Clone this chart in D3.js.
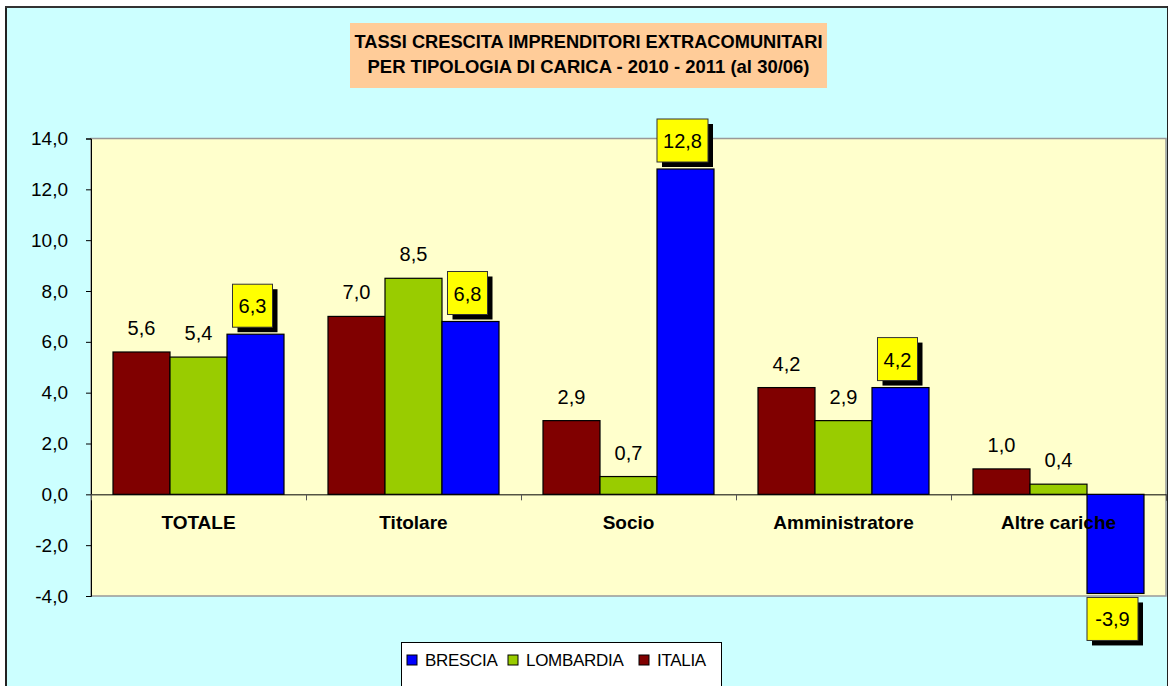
<!DOCTYPE html>
<html>
<head>
<meta charset="utf-8">
<script src="https://cdn.jsdelivr.net/npm/d3@7"></script>
<style>
  body { margin: 0; background: #fff; }
  svg { display: block; font-family: Arial, "Liberation Sans", sans-serif; }
</style>
</head>
<body>
<svg id="chart" width="1170" height="686"></svg>
<script>
// categories and series
const categories = ["TOTALE", "Titolare", "Socio", "Amministratore", "Altre cariche"];
const seriesNames = ["ITALIA", "LOMBARDIA", "BRESCIA"];
const italia = [5.6, 7.0, 2.9, 4.2, 1.0];
const lombardia = [5.4, 8.5, 0.7, 2.9, 0.4];
const brescia = [6.3, 6.8, 12.8, 4.2, -3.9];
const yTicks = [-4, -2, 0, 2, 4, 6, 8, 10, 12, 14];
const legendOrder = ["BRESCIA", "LOMBARDIA", "ITALIA"];
const titleLines = ["TASSI CRESCITA IMPRENDITORI EXTRACOMUNITARI",
                    "PER TIPOLOGIA DI CARICA - 2010 - 2011 (al 30/06)"];

const colors = { ITALIA: "#800000", LOMBARDIA: "#99CC00", BRESCIA: "#0000FF" };
const values = { ITALIA: italia, LOMBARDIA: lombardia, BRESCIA: brescia };
// italian decimal comma, plain hyphen for negatives
const fmt = v => d3.format(".1f")(v).replace(".", ",").replace("\u2212", "-");

const svg = d3.select("#chart");

// chart area background and border
svg.append("rect").attr("x", 6).attr("y", 7).attr("width", 1161).attr("height", 700)
    .attr("fill", "#CCFFFF");
svg.append("line").attr("x1", 6).attr("x2", 6).attr("y1", 6).attr("y2", 686)
    .attr("stroke", "#222").attr("stroke-width", 2);
svg.append("line").attr("x1", 5).attr("x2", 1168).attr("y1", 7).attr("y2", 7)
    .attr("stroke", "#333").attr("stroke-width", 2);
svg.append("line").attr("x1", 1167.5).attr("x2", 1167.5).attr("y1", 6).attr("y2", 686)
    .attr("stroke", "#222").attr("stroke-width", 1);

// title box
svg.append("rect").attr("x", 350).attr("y", 23).attr("width", 477).attr("height", 65)
    .attr("fill", "#FFCC99");
const titleWidths = [468, 442];
titleLines.forEach((t, i) => {
    svg.append("text")
        .attr("x", 588.5).attr("y", 48 + i * 25)
        .attr("text-anchor", "middle")
        .attr("textLength", titleWidths[i])
        .attr("lengthAdjust", "spacingAndGlyphs")
        .style("font-size", "19px").style("font-weight", 700)
        .text(t);
});

// scales
const plot = { left: 91, right: 1166, top: 138.5, bottom: 596 };
const y = d3.scaleLinear().domain([-4, 14]).range([plot.bottom, plot.top]);
const x0 = d3.scaleBand().domain(categories).range([plot.left, plot.right]);
const x1 = d3.scaleBand().domain(seriesNames).range([0, x0.bandwidth()]).paddingOuter(0.386);

// plot area
svg.append("rect")
    .attr("x", plot.left).attr("y", plot.top)
    .attr("width", plot.right - plot.left).attr("height", plot.bottom - plot.top)
    .attr("fill", "#FFFFCC").attr("stroke", "#999").attr("stroke-width", 1.5);

// y axis
const yAxis = svg.append("g")
    .attr("transform", "translate(" + plot.left + ",0)")
    .call(d3.axisLeft(y).tickValues(yTicks).tickFormat(fmt).tickSize(5).tickPadding(18));
yAxis.select(".domain").attr("stroke", "#000");
yAxis.selectAll(".tick line").attr("stroke", "#000");
yAxis.selectAll("text")
    .style("font-size", "19px").style("font-family", "Arial, 'Liberation Sans', sans-serif")
    .attr("fill", "#000");

// zero line with category ticks
const xAxis = svg.append("g")
    .attr("transform", "translate(0," + y(0) + ")")
    .call(d3.axisBottom(d3.scaleLinear().domain([0, 5]).range([plot.left, plot.right]))
        .ticks(5).tickSize(6).tickFormat(""));
xAxis.select(".domain").attr("stroke", "#000");
xAxis.selectAll(".tick line").attr("stroke", "#555");

// bars
const rows = [];
categories.forEach((c, i) => {
    seriesNames.forEach(s => rows.push({ cat: c, series: s, value: values[s][i] }));
});

svg.append("g").selectAll("rect")
    .data(rows)
    .join("rect")
    .attr("x", d => x0(d.cat) + x1(d.series))
    .attr("y", d => y(Math.max(0, d.value)))
    .attr("width", x1.bandwidth())
    .attr("height", d => Math.abs(y(d.value) - y(0)))
    .attr("fill", d => colors[d.series])
    .attr("stroke", "#000").attr("stroke-width", 1.2);

// category labels (on top of the bars, like the original)
svg.append("g").selectAll("text")
    .data(categories)
    .join("text")
    .attr("x", d => x0(d) + x0.bandwidth() / 2)
    .attr("y", y(0) + 35)
    .attr("text-anchor", "middle")
    .style("font-size", "19px").style("font-weight", 700)
    .text(d => d);

// plain value labels for ITALIA and LOMBARDIA
svg.append("g").selectAll("text")
    .data(rows.filter(d => d.series !== "BRESCIA"))
    .join("text")
    .attr("x", d => x0(d.cat) + x1(d.series) + x1.bandwidth() / 2)
    .attr("y", d => y(d.value) - 17)
    .attr("text-anchor", "middle")
    .style("font-size", "20px")
    .text(d => fmt(d.value));

// boxed labels for BRESCIA
const boxes = svg.append("g").selectAll("g")
    .data(rows.filter(d => d.series === "BRESCIA"))
    .join("g")
    .attr("transform", d => {
        const cx = x0(d.cat) + x1(d.series) + x1.bandwidth() / 2 - 3;
        const top = d.value >= 0 ? y(d.value) - 7 - 43 : y(d.value) + 4;
        return "translate(" + cx + "," + top + ")";
    });
boxes.each(function(d) {
    const g = d3.select(this);
    const label = fmt(d.value);
    const w = label.length > 3 ? 51 : 40;
    g.append("rect").attr("x", -w / 2 + 5).attr("y", 5).attr("width", w).attr("height", 43)
        .attr("fill", "#000");
    g.append("rect").attr("x", -w / 2).attr("y", 0).attr("width", w).attr("height", 43)
        .attr("fill", "#FFFF00").attr("stroke", "#333").attr("stroke-width", 1);
    g.append("text").attr("x", 0).attr("y", 29)
        .attr("text-anchor", "middle")
        .style("font-size", "20px")
        .text(label);
});

// legend
const legend = svg.append("g");
legend.append("rect").attr("x", 401.5).attr("y", 642.5).attr("width", 320).attr("height", 60)
    .attr("fill", "#fff").attr("stroke", "#000").attr("stroke-width", 1);
const legendX = { BRESCIA: 407, LOMBARDIA: 508, ITALIA: 639 };
legendOrder.forEach(s => {
    legend.append("rect")
        .attr("x", legendX[s]).attr("y", 655).attr("width", 10).attr("height", 10)
        .attr("fill", colors[s]).attr("stroke", "#000").attr("stroke-width", 1);
    legend.append("text")
        .attr("x", legendX[s] + 18).attr("y", 666)
        .style("font-size", "17px").style("letter-spacing", "-0.3px")
        .text(s);
});
</script>
</body>
</html>
